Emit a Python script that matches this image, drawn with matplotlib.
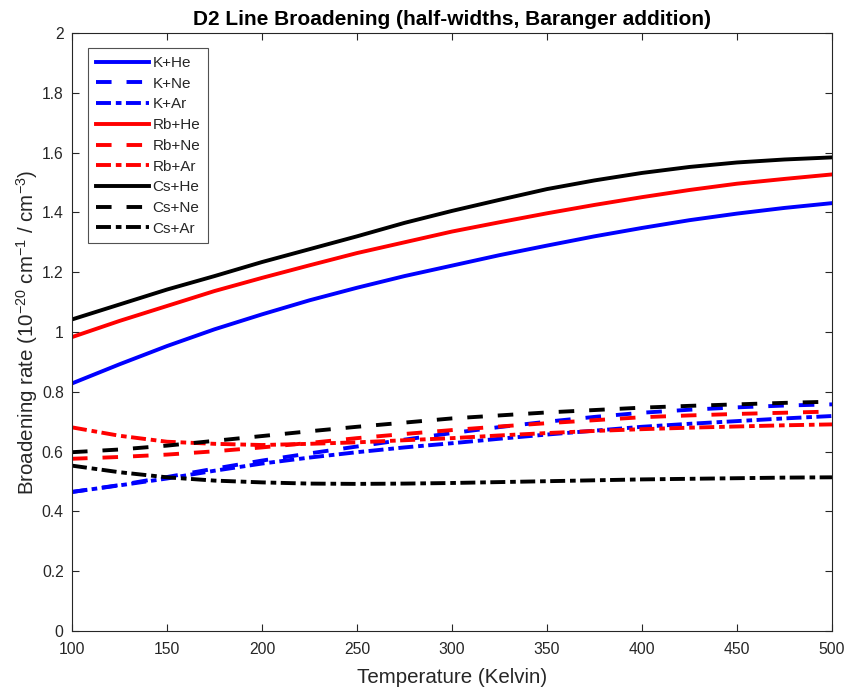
import numpy as np
import matplotlib
matplotlib.use("Agg")
import matplotlib.pyplot as plt

plt.rcParams['font.family'] = ['Liberation Sans', 'DejaVu Sans']
plt.rcParams['mathtext.default'] = 'regular'

temp = [100, 125, 150, 175, 200, 225, 250, 275, 300, 325, 350, 375, 400, 425, 450, 475, 500]

k_he = [0.828, 0.892, 0.953, 1.009, 1.059, 1.106, 1.148, 1.187, 1.222, 1.257, 1.289, 1.32, 1.348, 1.374, 1.396, 1.415, 1.431]
k_ne = [0.465, 0.488, 0.515, 0.543, 0.57, 0.594, 0.617, 0.64, 0.662, 0.682, 0.70, 0.716, 0.73, 0.74, 0.748, 0.754, 0.758]
k_ar = [0.465, 0.487, 0.51, 0.536, 0.56, 0.58, 0.598, 0.614, 0.628, 0.643, 0.657, 0.67, 0.683, 0.693, 0.702, 0.711, 0.719]
rb_he = [0.983, 1.037, 1.087, 1.137, 1.181, 1.223, 1.264, 1.30, 1.336, 1.367, 1.397, 1.425, 1.451, 1.475, 1.496, 1.512, 1.527]
rb_ne = [0.576, 0.582, 0.59, 0.601, 0.614, 0.629, 0.645, 0.659, 0.672, 0.684, 0.695, 0.705, 0.715, 0.721, 0.726, 0.73, 0.734]
rb_ar = [0.681, 0.653, 0.633, 0.626, 0.622, 0.626, 0.631, 0.638, 0.645, 0.654, 0.662, 0.669, 0.675, 0.68, 0.684, 0.688, 0.691]
cs_he = [1.042, 1.092, 1.142, 1.187, 1.234, 1.277, 1.32, 1.365, 1.405, 1.442, 1.478, 1.507, 1.532, 1.552, 1.567, 1.577, 1.584]
cs_ne = [0.598, 0.607, 0.62, 0.636, 0.652, 0.668, 0.683, 0.697, 0.711, 0.721, 0.731, 0.739, 0.747, 0.753, 0.758, 0.763, 0.767]
cs_ar = [0.553, 0.531, 0.514, 0.503, 0.497, 0.493, 0.492, 0.493, 0.495, 0.498, 0.501, 0.504, 0.507, 0.509, 0.511, 0.513, 0.514]

# matlab-like line styles
solid = '-'
dashed = (0, (4.0, 3.85))
dashdot = (0, (3.85, 1.25, 1.45, 1.15))

series = [
    ("K+He", k_he, "blue", solid),
    ("K+Ne", k_ne, "blue", dashed),
    ("K+Ar", k_ar, "blue", dashdot),
    ("Rb+He", rb_he, "red", solid),
    ("Rb+Ne", rb_ne, "red", dashed),
    ("Rb+Ar", rb_ar, "red", dashdot),
    ("Cs+He", cs_he, "black", solid),
    ("Cs+Ne", cs_ne, "black", dashed),
    ("Cs+Ar", cs_ar, "black", dashdot),
]

fig = plt.figure(figsize=(8.45, 6.95), dpi=100)
ax = fig.add_axes([0.0852, 0.0921, 0.8994, 0.8604])

for name, vals, col, ls in series:
    ax.plot(temp, vals, color=col, linestyle=ls, linewidth=2.8, label=name)

ax.set_xlim(100, 500)
ax.set_ylim(0, 2)
ax.set_xticks(np.arange(100, 501, 50))
ax.set_yticks(np.arange(0, 2.01, 0.2))
ax.set_yticklabels(['0', '0.2', '0.4', '0.6', '0.8', '1', '1.2', '1.4', '1.6', '1.8', '2'])
ax.tick_params(direction='in', top=True, right=True, labelsize=11.3, length=5, colors='#262626')
ax.tick_params(axis='x', pad=8)
ax.tick_params(axis='y', pad=6)
for s in ax.spines.values():
    s.set_color('#262626')
    s.set_linewidth(0.8)

ax.set_xlabel('Temperature (Kelvin)', fontsize=14.8, color='#262626', labelpad=8)
ax.set_ylabel('Broadening rate (10$^{-20}$ cm$^{-1}$ / cm$^{-3}$)', fontsize=14.8, color='#262626', labelpad=1)
ax.set_title('D2 Line Broadening (half-widths, Baranger addition)', fontsize=15, fontweight='bold', pad=6)

leg = ax.legend(loc='upper left', bbox_to_anchor=(0.0214, 0.9744), borderaxespad=0, fontsize=11,
                frameon=True, fancybox=False, edgecolor='#262626', handlelength=3.5, handletextpad=0.2,
                labelspacing=0.44, borderpad=0.5)
leg.get_frame().set_linewidth(0.8)
for t in leg.get_texts():
    t.set_color('#262626')

fig.savefig('out.png', dpi=100)
